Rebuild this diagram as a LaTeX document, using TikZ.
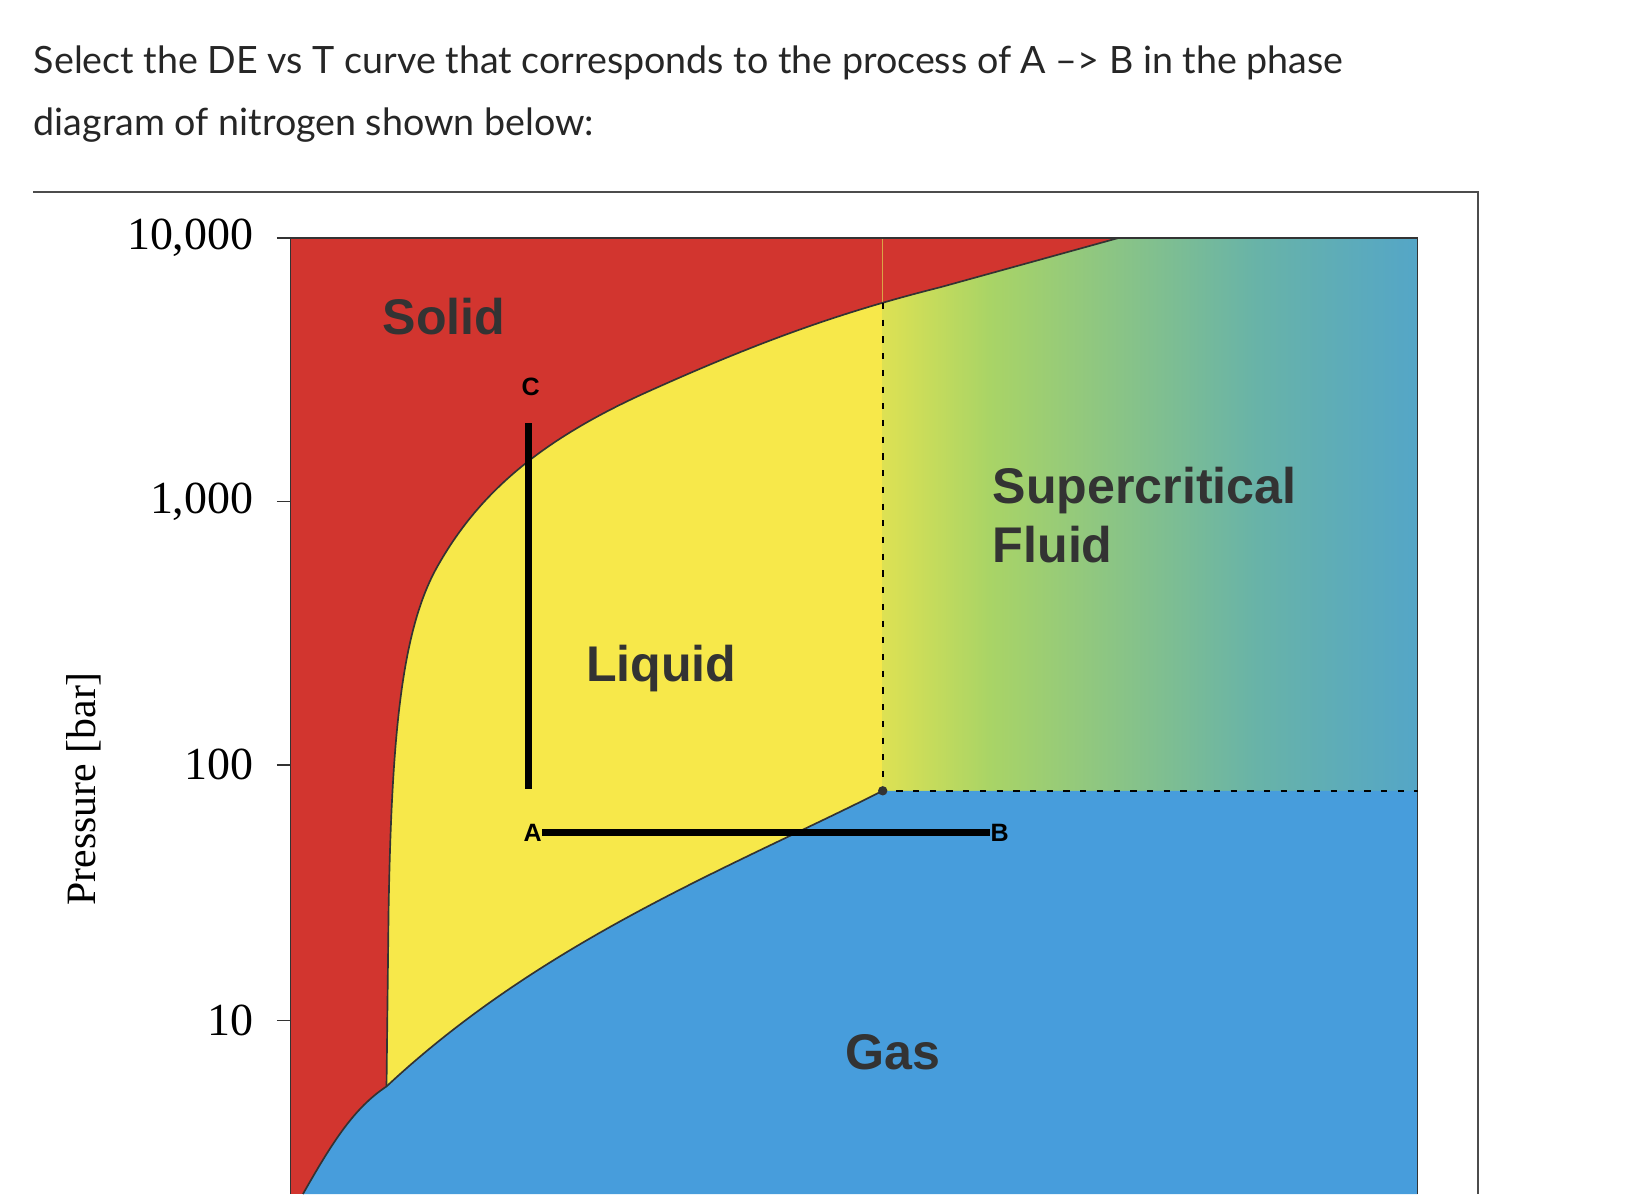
\documentclass[tikz,border=0pt]{standalone}
\usepackage{fontspec}
\setmainfont{Lato}
\newfontfamily\lab{Liberation Sans}
\newfontfamily\ser{Liberation Serif}
\definecolor{solidr}{HTML}{D2352F}
\definecolor{liqy}{HTML}{F7E84A}
\definecolor{gasb}{HTML}{479DDC}
\definecolor{scg}{HTML}{A9D466}
\definecolor{sct}{HTML}{68B3A8}
\definecolor{txtg}{HTML}{333333}
\pgfdeclarehorizontalshading{scf}{100bp}{color(0bp)=(liqy); color(20bp)=(liqy); color(35bp)=(scg); color(60bp)=(sct); color(85bp)=(gasb); color(100bp)=(sct)}
\tikzset{phlabel/.style={font=\lab\bfseries\fontsize{24}{28}\selectfont, text=txtg, inner sep=0},
tick/.style={font=\ser\fontsize{22}{26}\selectfont, anchor=east, inner sep=0},
ptlabel/.style={font=\lab\bfseries\fontsize{12}{14}\selectfont, inner sep=0},
path/.style={line width=3pt, black}}
\begin{document}
\begin{tikzpicture}[x=0.5pt,y=-0.5pt]
\useasboundingbox (0,0) rectangle (1568,1143);
\fill[white] (0,0) rectangle (1568,1143);
\node[anchor=west, font=\fontsize{18}{22}\selectfont, text=black!85, inner sep=0] (t1) at (32,60) {Select the DE vs T curve that corresponds to the process of A --{}> B in the phase};
\node[anchor=west, font=\fontsize{18}{22}\selectfont, text=black!85, inner sep=0] (t2) at (32,120) {diagram of nitrogen shown below:};
\draw[black!70, line width=1pt] (32,184) -- (1415,184) -- (1415,1143);
% regions
\fill[solidr] (278,228) rectangle (1357,1143);
\fill[liqy] (370,1040) -- (372,870) .. controls (375,700) and (385,600) .. (420,540) .. controls (460,470) and (520,420) .. (620,375) .. controls (720,330) and (800,300) .. (900,275) -- (1070,228) -- (1357,228) -- (1357,757) -- (845,757) .. controls (700,830) and (520,900) .. (370,1040) -- cycle;
\begin{scope}
\clip (845,228) rectangle (1357,757);
\shade[shading=scf] (845,228) rectangle (1357,757);
\fill[solidr] (845,228) -- (845,290) -- (900,275) -- (1070,228) -- cycle;
\end{scope}
\fill[gasb] (290,1143) .. controls (320,1090) and (340,1060) .. (370,1040) .. controls (520,900) and (700,830) .. (845,757) -- (1357,757) -- (1357,1143) -- cycle;
% boundaries
\draw[black!80, line width=0.8pt] (370,1040) -- (372,870) .. controls (375,700) and (385,600) .. (420,540) .. controls (460,470) and (520,420) .. (620,375) .. controls (720,330) and (800,300) .. (900,275) -- (1070,228);
\draw[black!80, line width=0.8pt] (290,1143) .. controls (320,1090) and (340,1060) .. (370,1040) .. controls (520,900) and (700,830) .. (845,757);
\draw[black!80, line width=0.8pt] (278,1143) -- (278,228) -- (1357,228) -- (1357,1143);
\draw[black, line width=1pt, dash pattern=on 3pt off 5pt] (845,290) -- (845,757) -- (1357,757);
\coordinate (cp) at (845,757);
\fill[black!80] (cp) circle (4.5);
% ticks
\foreach \yy/\tt in {228/{10,000},480/{1,000},732/100,977/10}{
  \draw[black!80, line width=0.8pt] (265,\yy) -- (278,\yy);
  \node[tick] at (243,\yy) {\tt};}
\node[rotate=90, font=\ser\fontsize{20}{24}\selectfont, inner sep=0] (pl) at (80,755) {Pressure [bar]};
% path
\node[ptlabel] (C) at (508,370) {C};
\coordinate (Ct) at (506,405);
\coordinate (Cb) at (506,755);
\draw[path] (Ct) -- (Cb);
\node[ptlabel] (A) at (510,797) {A};
\node[ptlabel] (B) at (957,797) {B};
\draw[path] (A.east) -- (B.west);
% labels
\node[phlabel] (sol) at (425,303) {Solid};
\node[phlabel] (liq) at (633,640) {Liquid};
\node[phlabel, anchor=west, align=left] (scfl) at (950,493) {Supercritical\\Fluid};
\node[phlabel] (gas) at (855,1007) {Gas};
\end{tikzpicture}
\end{document}
